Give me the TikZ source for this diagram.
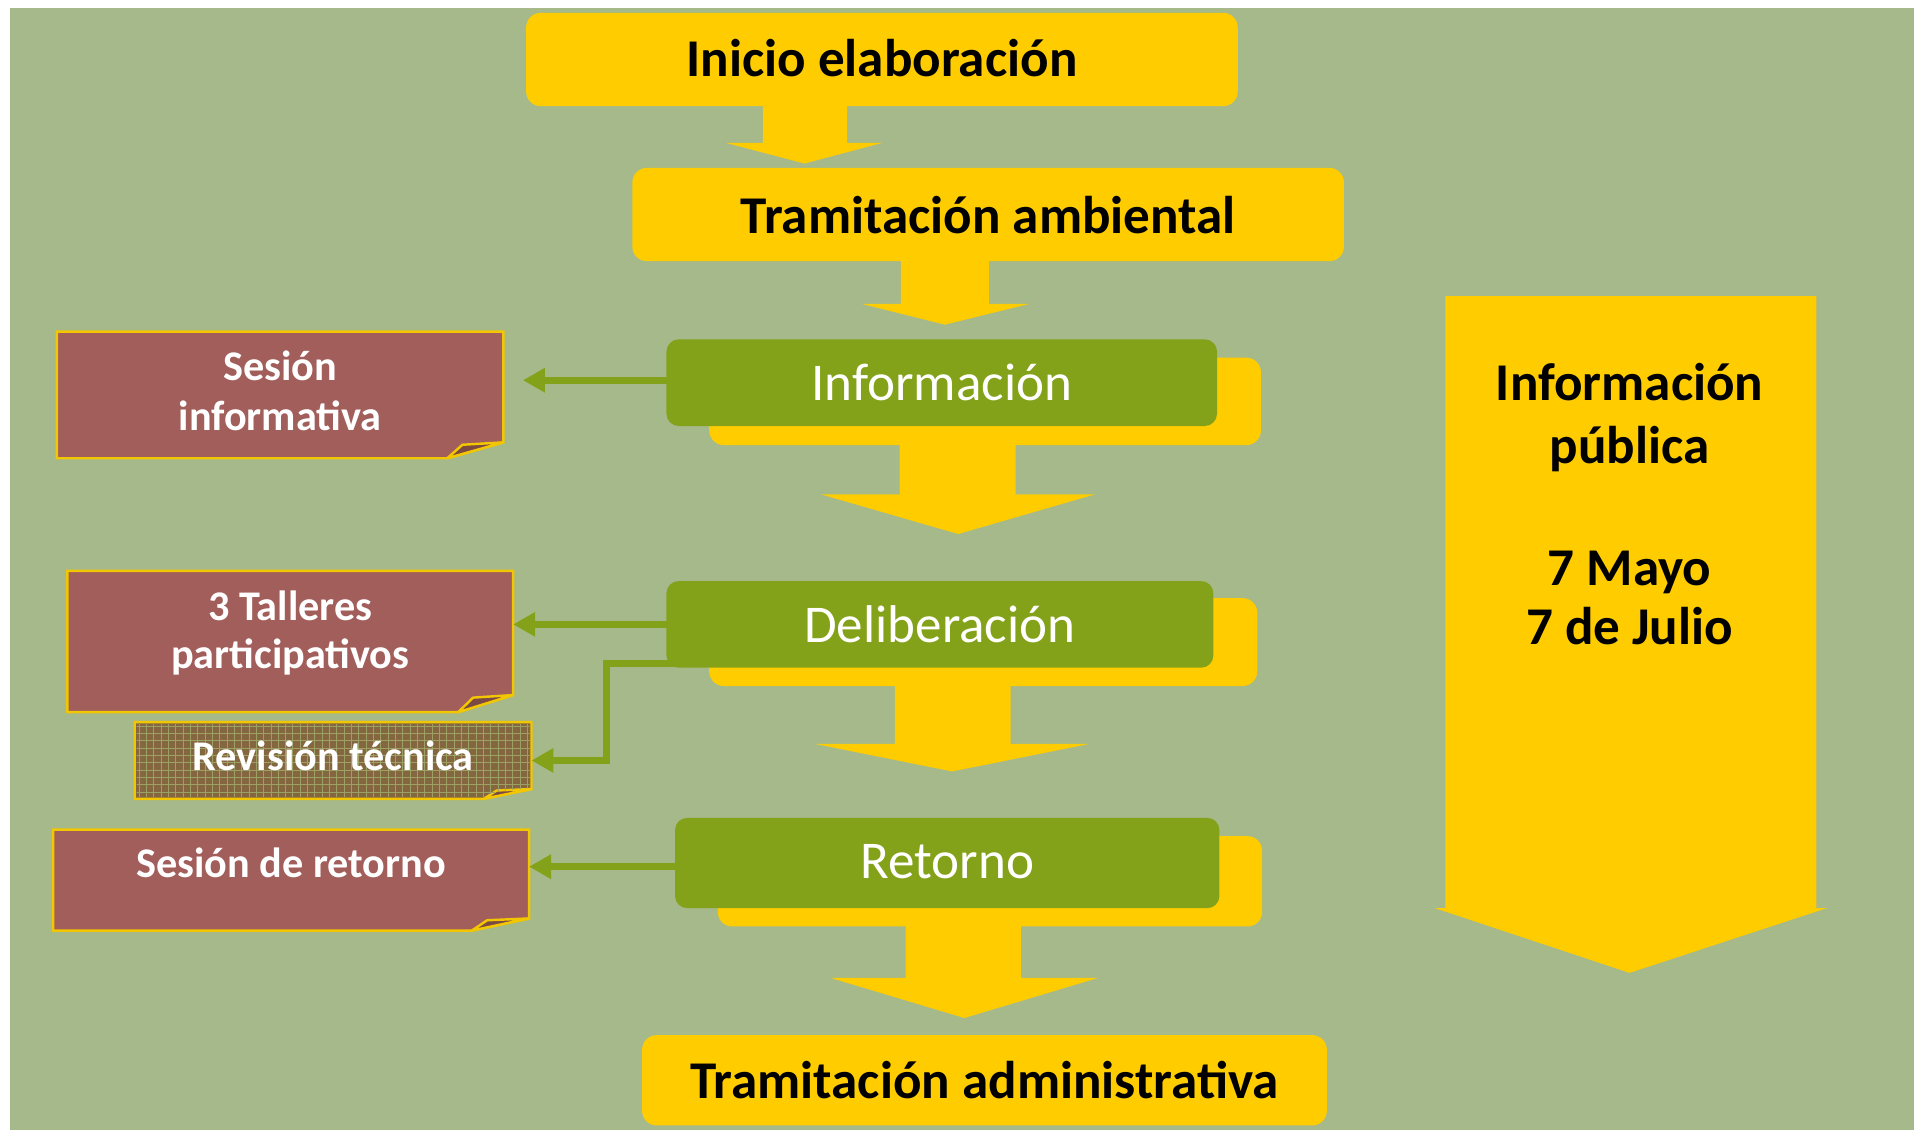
\documentclass[tikz,border=0pt]{standalone}
\usepackage{fontspec}
\setmainfont{Carlito}
\usetikzlibrary{arrows.meta,calc,patterns}
\definecolor{bg}{HTML}{A6B98A}
\definecolor{yel}{HTML}{FFCC00}
\definecolor{grn}{HTML}{84A219}
\definecolor{redb}{HTML}{A25E5A}
\definecolor{gold}{HTML}{F2C600}
\definecolor{folddark}{HTML}{7B4A42}
\definecolor{revfill}{HTML}{846640}
\definecolor{revgrid}{HTML}{9CA062}
\newcommand{\foldbox}[4]{%
  \filldraw[draw=gold, line width=1pt, fill=#4] (#1.north west) -- (#1.north east) -- ($(#1.south east)+(0,-#3)$) -- ($(#1.south east)+(-#2,0)$) -- (#1.south west) -- cycle;
  \filldraw[draw=gold, line width=1pt, fill=folddark, line join=round] ($(#1.south east)+(-#2,0)$) -- ($(#1.south east)+(-0.73*#2,-0.85*#3)$) -- ($(#1.south east)+(0,-#3)$) -- cycle;}
\begin{document}
\begin{tikzpicture}[x=0.5pt,y=-0.5pt,
  ybox/.style={fill=yel, rounded corners=6pt, inner sep=0pt, draw=none},
  gbox/.style={fill=grn, rounded corners=5pt, inner sep=0pt, draw=none},
  rbox/.style={inner sep=0pt, draw=none},
  bigtxt/.style={font=\fontsize{21.75}{26}\selectfont\bfseries, anchor=base, inner sep=0pt},
  gtxt/.style={font=\fontsize{21.75}{26}\selectfont, text=white, anchor=base, inner sep=0pt},
  rtxt/.style={font=\fontsize{17.3}{20}\selectfont\bfseries, text=white, anchor=base, inner sep=0pt},
  garrow/.style={draw=grn, line width=2.75pt, -{Triangle[length=9pt,width=9.5pt]}}]
\fill[white] (0,0) rectangle (1568,925);
\useasboundingbox (0,0) rectangle (1568,925);
\fill[bg] (8.2,6.6) rectangle (1580,940);

% block arrows
\fill[yel] (625,80) -- (694,80) -- (694,117) -- (723,117) -- (659,134) -- (594.5,117) -- (625,117) -- cycle;
\fill[yel] (738,205) -- (810,205) -- (810,249) -- (843,249) -- (774,266) -- (706,249) -- (738,249) -- cycle;
\fill[yel] (737,355) -- (832,355) -- (832,405) -- (897,405) -- (785,437.5) -- (672.6,405) -- (737,405) -- cycle;
\fill[yel] (733,552) -- (828,552) -- (828,609.5) -- (892,609.5) -- (780,632) -- (668,609.5) -- (733,609.5) -- cycle;
\fill[yel] (742,750) -- (836.5,750) -- (836.5,801) -- (900,801) -- (790,834) -- (680,801) -- (742,801) -- cycle;

% right big arrow
\fill[yel] (1184,242.5) -- (1488,242.5) -- (1488,744) -- (1496.5,744) -- (1335,797) -- (1175.6,744) -- (1184,744) -- cycle;

% yellow boxes
\node[ybox, minimum width=291.5pt, minimum height=38.25pt] (inicio) at (722.5,48.75) {};
\node[ybox, minimum width=291.5pt, minimum height=38.25pt] (tramamb) at (809.5,175.75) {};
\node[ybox, minimum width=280.5pt, minimum height=37pt] (tramadm) at (806.5,885) {};

% shadows and green boxes
\node[ybox, minimum width=226pt, minimum height=35.8pt] (infosh) at (807,328.8) {};
\node[gbox, minimum width=225.5pt, minimum height=35.5pt] (info) at (771.5,313.5) {};
\node[ybox, minimum width=224.5pt, minimum height=36pt] (delibsh) at (805.5,526) {};
\node[gbox, minimum width=224pt, minimum height=35.5pt] (delib) at (770,511.5) {};
\node[ybox, minimum width=223pt, minimum height=37pt] (retsh) at (811,722) {};
\node[gbox, minimum width=223pt, minimum height=37pt] (ret) at (776,707) {};

% red boxes
\node[rbox, minimum width=182.5pt, minimum height=51.5pt] (sesinf) at (229.5,323.5) {};
\node[rbox, minimum width=182.2pt, minimum height=57.5pt] (talleres) at (237.8,525.5) {};
\node[rbox, minimum width=162.1pt, minimum height=31pt] (revision) at (272.9,623) {};
\node[rbox, minimum width=194.5pt, minimum height=41pt] (sesret) at (238.5,721) {};
\foldbox{sesinf}{46}{13}{redb}
\foldbox{talleres}{45}{14}{redb}
\foldbox{sesret}{47}{10}{redb}
\foldbox{revision}{39}{8}{revfill}
\fill[pattern=grid, pattern color=revgrid] ($(revision.north west)+(1.5,1.5)$) -- ($(revision.north east)+(-1.5,1.5)$) -- ($(revision.south east)+(-1.5,-9)$) -- ($(revision.south east)+(-28,-6)$) -- ($(revision.south east)+(-39,-1.5)$) -- ($(revision.south west)+(1.5,-1.5)$) -- cycle;

% connectors
\draw[garrow, shorten >=8pt] ($(info.west)+(6,-2)$) -- ($(info.west -| sesinf.east)+(0,-2)$);
\draw[garrow] ($(delib.west)+(6,0)$) -- (delib.west -| talleres.east);
\draw[garrow] ($(delib.south west)+(8,-4)$) -- ++(-57,0) |- (revision.east);
\draw[garrow] ($(ret.west)+(6,3)$) -- ($(ret.west -| sesret.east)+(0,3)$);

% texts
\node[bigtxt] (t1) at (722.5,63) {Inicio elaboración};
\node[bigtxt] (t2) at (809.5,191) {Tramitación ambiental};
\node[gtxt] (t3) at (771.5,328) {Información};
\node[gtxt] (t4) at (770,526) {Deliberación};
\node[gtxt] (t5) at (776,720) {Retorno};
\node[bigtxt] (t6) at (806.5,900) {Tramitación administrativa};
\node[bigtxt] (p1) at (1335,328) {Información};
\node[bigtxt] (p2) at (1335,380) {pública};
\node[bigtxt] (p3) at (1335,480) {7 Mayo};
\node[bigtxt] (p4) at (1335,528) {7 de Julio};
\node[rtxt] (r1) at (229.5,312) {Sesión};
\node[rtxt] (r2) at (229.5,353) {informativa};
\node[rtxt] (r3) at (237.8,508) {3 Talleres};
\node[rtxt] (r4) at (237.8,548) {participativos};
\node[rtxt] (r5) at (272.9,631) {Revisión técnica};
\node[rtxt] (r6) at (238.5,719) {Sesión de retorno};
\end{tikzpicture}
\end{document}
